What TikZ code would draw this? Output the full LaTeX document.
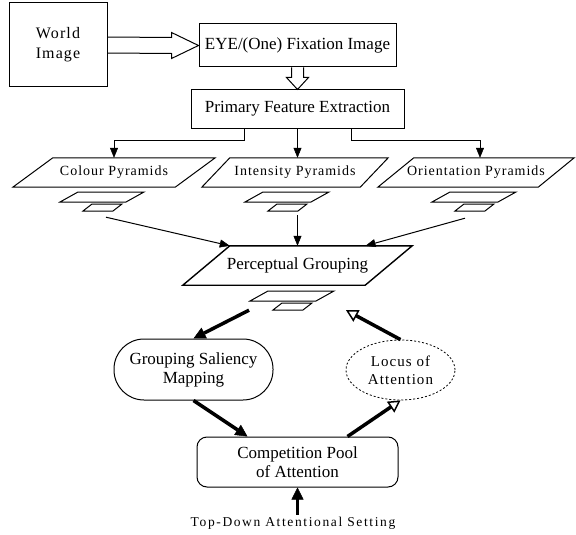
\documentclass[tikz,border=0pt]{standalone}
\usepackage{fontspec}
\setmainfont{Liberation Serif}
\newfontfamily\spacedfont[LetterSpace=7]{Liberation Serif}
\newfontfamily\widefont[LetterSpace=12]{Liberation Serif}
\usetikzlibrary{calc, arrows.meta, shapes.geometric}

\tikzset{
  box/.style={draw, line width=1pt, align=center, font=\fontsize{17}{19}\selectfont},
  pyr/.style={align=center, minimum height=29pt, inner sep=0pt, font=\spacedfont\fontsize{14}{16}\selectfont},
  flow/.style={line width=1pt, -{Triangle[length=10pt,width=8pt,line width=0.5pt]}},
  bold/.style={line width=3.5pt, -{Triangle[length=12pt,width=12pt,line width=0.5pt]}},
  boldopen/.style={line width=3.5pt, -{Triangle[open,fill=white,length=12pt,width=13pt,line width=1.5pt]}},
  stack/.pic={
    \draw[line width=1pt] (-24,-5) -- (42,-5) -- (24,5) -- (-42,5) -- cycle;
    \draw[line width=1pt] (-10,7) -- (20,7) -- (11,14) -- (-19,14) -- cycle;
  }
}

\begin{document}
\begin{tikzpicture}[x=1pt, y=-1pt]
\useasboundingbox (0,0) rectangle (576,535);

\node[box, minimum width=98pt, minimum height=84pt, font=\spacedfont\fontsize{16}{20}\selectfont] (world) at (58,45) {World\\Image};
\node[box, minimum width=197pt, minimum height=43pt] (eye) at (297.5,45.5) {EYE/(One) Fixation Image};
\node[box, minimum width=213pt, minimum height=38pt] (pfe) at (297.5,109) {Primary Feature Extraction};

% hollow arrows at the top
\draw[line width=1pt] ($(world.east)+(0,-8)$) -- ($(eye.west)+(-27,-8)$) -- ($(eye.west)+(-27,-13)$) -- (eye.west)
  -- ($(eye.west)+(-27,13)$) -- ($(eye.west)+(-27,8)$) -- ($(world.east)+(0,8)$);
\draw[line width=1pt] ($(eye.south)+(-6,0)$) -- ($(pfe.north)+(-6,-12)$) -- ($(pfe.north)+(-11,-12)$) -- (pfe.north)
  -- ($(pfe.north)+(11,-12)$) -- ($(pfe.north)+(6,-12)$) -- ($(eye.south)+(6,0)$);

% pyramids
\node[pyr, minimum width=162pt] (colour) at (114,172.5) {Colour Pyramids};
\node[pyr, minimum width=158pt] (intens) at (295,172.5) {Intensity Pyramids};
\node[pyr, minimum width=160pt] (orient) at (476,172.5) {Orientation Pyramids};
\node[pyr, minimum width=182pt, minimum height=39pt, font=\fontsize{17}{19}\selectfont] (group) at (297.5,265.5) {Perceptual Grouping};

\foreach \n/\s/\w in {colour/20/1, intens/14/1, orient/18/1, group/23.5/1.4}
  \draw[line width=\w pt] ($(\n.north west)+(\s,0)$) -- ($(\n.north east)+(\s,0)$)
    -- ($(\n.south east)-(\s,0)$) -- ($(\n.south west)-(\s,0)$) -- cycle;

\pic at ($(colour.center)+(-12,24.5)$) {stack};
\pic at ($(intens.center)+(-8,24.5)$) {stack};
\pic at ($(orient.center)+(-2,24.5)$) {stack};
\pic at ($(group.center)+(-5.5,30.5)$) {stack};

\draw[flow] ($(pfe.south)+(-53,0)$) -- ++(0,12) -| (colour.north);
\draw[flow] (pfe.south) -- (pfe.south |- intens.north);
\draw[flow] ($(pfe.south)+(53.5,0)$) -- ++(0,12) -| ($(orient.north)+(4,0)$);

\draw[flow] ($(colour.south)+(-8,30)$) -- ($(group.north west)+(23.5,0)$);
\draw[flow] ($(intens.south)+(2.5,28)$) -- (group.north);
\draw[flow] ($(orient.south)+(-11,31)$) -- ($(group.north)+(68,0)$);

% attention loop
\node[box, rounded corners=30pt, minimum width=159pt, minimum height=61pt] (gsm) at (193.5,369.5) {Grouping Saliency\\Mapping};
\node[ellipse, draw, dash pattern=on 2pt off 2pt, line width=0.8pt, minimum width=109pt, minimum height=60pt, inner sep=0pt,
  align=center, font=\spacedfont\fontsize{15}{18}\selectfont] (locus) at (400.5,370) {Locus of\\Attention};
\node[box, rounded corners=10pt, minimum width=201pt, minimum height=50pt] (pool) at (297.5,462) {Competition Pool\\of Attention};
\node[font=\widefont\fontsize{13.5}{15}\selectfont, inner sep=2pt] (topdown) at (293,523) {Top-Down Attentional Setting};

\coordinate (gout) at ($(group.south)+(-48.5,25)$);
\coordinate (gin) at ($(group.south)+(48.5,25)$);

\draw[bold] (gout) -- (gsm.north);
\draw[boldopen] (locus.north) -- (gin);
\draw[bold] (gsm.south) -- ($(pool.north)+(-50,0)$);
\draw[boldopen] ($(pool.north)+(50,0)$) -- (locus.south);
\draw[bold, line width=3pt] (pool.south |- topdown.north) -- (pool.south);
\end{tikzpicture}
\end{document}
